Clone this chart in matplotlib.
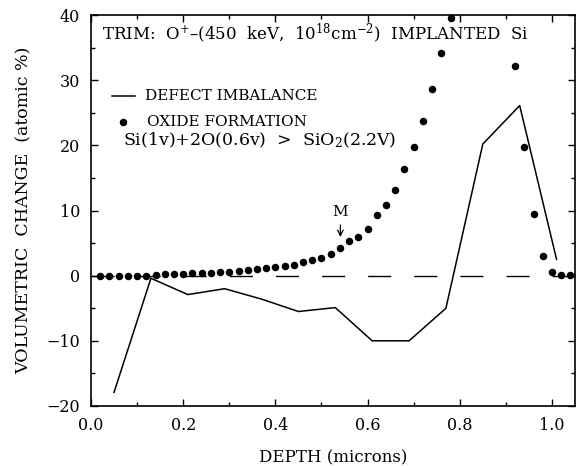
import matplotlib
matplotlib.use("Agg")
import matplotlib.pyplot as plt
from matplotlib.ticker import MultipleLocator

plt.rcParams['font.family'] = ['DejaVu Serif']
plt.rcParams['mathtext.fontset'] = 'dejavuserif'
plt.rcParams['mathtext.default'] = 'regular'

# Oxide formation (dots)
oxide_depth = [0.02, 0.04, 0.06, 0.08, 0.10, 0.12, 0.14, 0.16, 0.18, 0.20,
               0.22, 0.24, 0.26, 0.28, 0.30, 0.32, 0.34, 0.36, 0.38, 0.40,
               0.42, 0.44, 0.46, 0.48, 0.50, 0.52, 0.54, 0.56, 0.58, 0.60,
               0.62, 0.64, 0.66, 0.68, 0.70, 0.72, 0.74, 0.76, 0.78,
               0.92, 0.94, 0.96, 0.98, 1.00, 1.02, 1.04]
oxide_change = [0.0, 0.0, 0.0, 0.0, 0.0, 0.0, 0.15, 0.2, 0.26, 0.3,
                0.36, 0.36, 0.46, 0.51, 0.56, 0.72, 0.82, 1.03, 1.13, 1.28,
                1.49, 1.69, 2.1, 2.4, 2.67, 3.33, 4.3, 5.3, 5.9, 7.1,
                9.3, 10.9, 13.1, 16.4, 19.7, 23.8, 28.6, 34.1, 39.5,
                32.2, 19.8, 9.5, 3.0, 0.6, 0.05, 0.05]

# Defect imbalance (line)
defect_depth = [0.05, 0.13, 0.21, 0.29, 0.37, 0.45, 0.53, 0.61, 0.69, 0.77, 0.85, 0.93, 1.01]
defect_change = [-17.9, -0.4, -2.9, -2.0, -3.6, -5.5, -4.9, -10.0, -10.0, -5.0, 20.2, 26.1, 2.5]

xticks = [0.0, 0.2, 0.4, 0.6, 0.8, 1.0]
yticks = [-20, -10, 0, 10, 20, 30, 40]

fig = plt.figure(figsize=(5.8, 4.66), dpi=100)
ax = fig.add_axes([91/580, 60/466, 484/580, 391/466])

ax.set_xlim(0, 1.05)
ax.set_ylim(-20, 40)

# zero reference line
zl, = ax.plot([0, 1.05], [0, 0], color='black', lw=1.0)
zl.set_dashes([16.6, 16.6])

ax.plot(defect_depth, defect_change, color='black', lw=1.1, zorder=3)
ax.plot(oxide_depth, oxide_change, 'o', color='black', ms=4.4, zorder=4, clip_on=True)

ax.set_xticks(xticks)
ax.set_xticklabels([f"{v:.1f}" for v in xticks])
ax.set_yticks(yticks)
ax.xaxis.set_minor_locator(MultipleLocator(0.1))
ax.yaxis.set_minor_locator(MultipleLocator(5))
ax.tick_params(which='both', direction='in', top=True, right=True, labelsize=11.5, width=1.0)
ax.tick_params(which='major', length=5, pad=8)
ax.tick_params(which='minor', length=3)
for s in ax.spines.values():
    s.set_linewidth(1.2)

ax.set_xlabel("DEPTH (microns)", fontsize=12, labelpad=11)
ax.set_ylabel("VOLUMETRIC  CHANGE  (atomic %)", fontsize=12.5, labelpad=10)

ax.text(0.024, 37.2, r"TRIM:  O$^{+}$–(450  keV,  10$^{18}$cm$^{-2}$)  IMPLANTED  Si",
        fontsize=12, ha='left', va='center')

# legend-like annotations
ax.plot([0.046, 0.096], [27.6, 27.6], color='black', lw=1.1)
ax.text(0.117, 27.6, "DEFECT IMBALANCE", fontsize=11, ha='left', va='center')
ax.plot([0.0696], [23.6], 'o', color='black', ms=4.4)
ax.text(0.122, 23.6, "OXIDE FORMATION", fontsize=11, ha='left', va='center')
ax.text(0.0696, 20.7, r"Si(1v)+2O(0.6v)  >  SiO$_2$(2.2V)", fontsize=12.5, ha='left', va='center')

# M marker
ax.annotate("", xy=(0.541, 5.5), xytext=(0.541, 8.2),
            arrowprops=dict(arrowstyle='->', color='black', lw=0.9))
ax.text(0.541, 9.8, "M", fontsize=11, ha='center', va='center')

fig.savefig("out.png", dpi=100)
